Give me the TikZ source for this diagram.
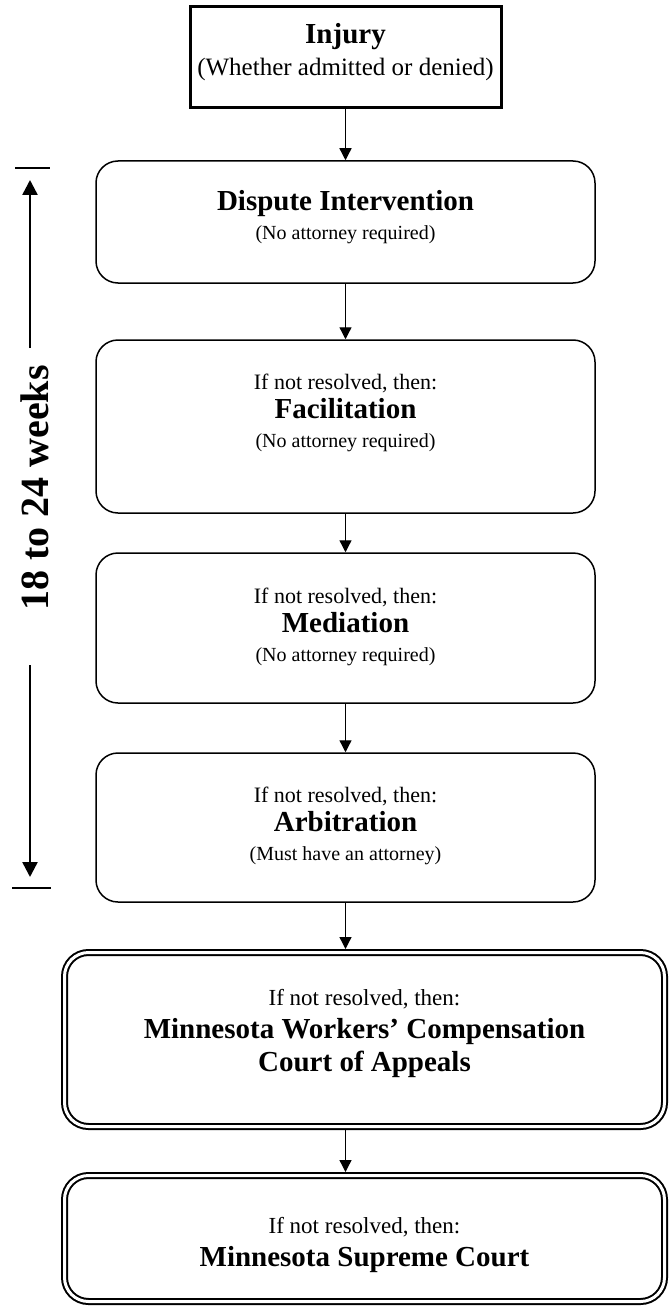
\documentclass[tikz,border=0pt]{standalone}
\usepackage{fontspec}
\setmainfont{Liberation Serif}
\usetikzlibrary{arrows.meta}
\begin{document}
\begin{tikzpicture}[x=1pt,y=-1pt,
  injbox/.style={draw, line width=3pt, inner sep=0pt, outer sep=1.5pt},
  rbox/.style={draw, line width=1.5pt, rounded corners=22pt, inner sep=0pt, outer sep=0.75pt, minimum width=499pt},
  dbox/.style={draw, line width=2pt, double, double distance=3pt, rounded corners=24pt, inner sep=0pt, outer sep=3.5pt, minimum width=600pt},
  conn/.style={line width=1.3pt, -{Triangle[length=12pt,width=12pt]}},
  side/.style={line width=2.5pt, -{Triangle[length=15pt,width=15pt]}},
  tick/.style={line width=2pt},
  txt/.style={align=center, inner sep=0pt, font=\fontsize{22}{29}\selectfont},
  dtxt/.style={align=center, inner sep=0pt, font=\fontsize{23}{29}\selectfont},
]
\useasboundingbox (0,0) rectangle (670,1308);
\newcommand{\ttlfont}{\fontsize{29}{29}\selectfont\bfseries}
\newcommand{\smlfont}{\fontsize{20}{29}\selectfont}

% boxes
\node[injbox, minimum width=311pt, minimum height=101pt] (injury) at (345.5,57.5) {};
\node[rbox, minimum height=122pt] (dispute) at (345.5,222) {};
\node[rbox, minimum height=173pt] (facil) at (345.5,426.5) {};
\node[rbox, minimum height=150pt] (media) at (345.5,628) {};
\node[rbox, minimum height=149pt] (arbit) at (345.5,827.5) {};
\node[dbox, minimum height=174pt] (wcca) at (364.5,1039.5) {};
\node[dbox, minimum height=126pt] (supreme) at (364.5,1238.5) {};

% texts
\node[txt] (injT) at (345.5,52) {{\ttlfont Injury}\\[3pt]{\fontsize{25}{29}\selectfont (Whether admitted or denied)}};
\node[txt] (dispT) at (345.5,217) {{\ttlfont Dispute Intervention}\\{\smlfont (No attorney required)}};
\node[txt] (facT) at (345.5,413) {If not resolved, then:\\{\ttlfont Facilitation}\\{\smlfont (No attorney required)}};
\node[txt] (medT) at (345.5,626.5) {If not resolved, then:\\{\ttlfont Mediation}\\{\smlfont (No attorney required)}};
\node[txt] (arbT) at (345.5,826) {If not resolved, then:\\{\ttlfont Arbitration}\\{\smlfont (Must have an attorney)}};
\node[dtxt] (wccaT) at (364.5,1033.5) {If not resolved, then:\\[4pt]{\ttlfont Minnesota Workers’ Compensation}\\[4pt]{\ttlfont Court of Appeals}};
\node[dtxt] (supT) at (364.5,1245) {If not resolved, then:\\[4pt]{\ttlfont Minnesota Supreme Court}};

% connectors
\draw[conn] (injury.south) -- (dispute.north);
\draw[conn] (dispute.south) -- (facil.north);
\draw[conn] (facil.south) -- (media.north);
\draw[conn] (media.south) -- (arbit.north);
\draw[conn] (arbit.south) -- (arbit.south |- wcca.north);
\draw[conn] (wcca.south -| arbit.south) -- (supreme.north -| arbit.south);

% side timeline
\node[rotate=90, inner sep=0pt, font=\fontsize{40}{40}\selectfont\bfseries] (weeks) at (35,488) {18 to 24 weeks};
\coordinate (upTail) at (30,348);
\coordinate (upTip) at (30,180);
\coordinate (upTickL) at (15,168);
\coordinate (upTickR) at (50,168);
\coordinate (dnTail) at (30,665);
\coordinate (dnTip) at (30,877);
\coordinate (dnTickL) at (12,888);
\coordinate (dnTickR) at (51,888);
\draw[side] (upTail) -- (upTip);
\draw[side] (dnTail) -- (dnTip);
\draw[tick] (upTickL) -- (upTickR);
\draw[tick] (dnTickL) -- (dnTickR);
\end{tikzpicture}
\end{document}
